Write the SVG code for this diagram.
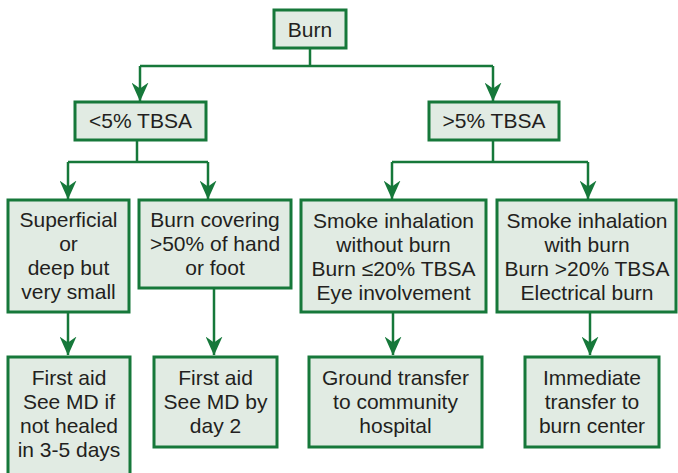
<svg xmlns="http://www.w3.org/2000/svg" width="678" height="473" viewBox="0 0 678 473">
<defs>
<marker id="arr" markerUnits="userSpaceOnUse" viewBox="0 0 19 17" refX="18.5" refY="8.5" markerWidth="19" markerHeight="17" orient="auto">
<path d="M0,0 L19,8.5 L0,17 L6,8.5 z" fill="#16783a"/>
</marker>
<style>
.box{fill:#e1ebe3;stroke:#16783a;stroke-width:3}
.t{font-family:"Liberation Sans",Arial,sans-serif;font-size:21px;fill:#231f20;text-anchor:middle}
.c{fill:none;stroke:#16783a;stroke-width:2.5}
</style>
</defs>
<rect width="678" height="473" fill="#ffffff"/>
<g id="connectors">
<path class="c" d="M310,49 V66"/>
<path class="c" d="M140,66 H493"/>
<path class="c" d="M140,66 V101" marker-end="url(#arr)"/>
<path class="c" d="M493,66 V101" marker-end="url(#arr)"/>
<path class="c" d="M137,141 V162"/>
<path class="c" d="M68,162 H208"/>
<path class="c" d="M68,162 V199" marker-end="url(#arr)"/>
<path class="c" d="M208,162 V199" marker-end="url(#arr)"/>
<path class="c" d="M493,141 V162"/>
<path class="c" d="M392,162 H588"/>
<path class="c" d="M392,162 V199" marker-end="url(#arr)"/>
<path class="c" d="M588,162 V199" marker-end="url(#arr)"/>
<path class="c" d="M68,312 V355" marker-end="url(#arr)"/>
<path class="c" d="M214,288 V355" marker-end="url(#arr)"/>
<path class="c" d="M393,312 V355" marker-end="url(#arr)"/>
<path class="c" d="M590,312 V355" marker-end="url(#arr)"/>
</g>
<g id="burn">
<rect class="box" x="274" y="10" width="72" height="38"/>
<text class="t" x="310" y="37">Burn</text>
</g>
<g id="lt5">
<rect class="box" x="75" y="102" width="131" height="38"/>
<text class="t" x="140.5" y="128">&lt;5% TBSA</text>
</g>
<g id="gt5">
<rect class="box" x="429" y="102" width="130" height="38"/>
<text class="t" x="494" y="128">&gt;5% TBSA</text>
</g>
<g id="superficial">
<rect class="box" x="8" y="200" width="121" height="112"/>
<text class="t" x="68.5" y="227">Superficial</text>
<text class="t" x="68.5" y="251">or</text>
<text class="t" x="68.5" y="275">deep but</text>
<text class="t" x="68.5" y="299">very small</text>
</g>
<g id="handfoot">
<rect class="box" x="139" y="200" width="152" height="88"/>
<text class="t" x="215" y="227">Burn covering</text>
<text class="t" x="215" y="251">&gt;50% of hand</text>
<text class="t" x="215" y="275">or foot</text>
</g>
<g id="smokeNoBurn">
<rect class="box" x="301" y="200" width="185" height="112"/>
<text class="t" x="393.5" y="228">Smoke inhalation</text>
<text class="t" x="393.5" y="252">without burn</text>
<text class="t" x="393.5" y="276">Burn ≤20% TBSA</text>
<text class="t" x="393.5" y="300">Eye involvement</text>
</g>
<g id="smokeBurn">
<rect class="box" x="497" y="200" width="179" height="112"/>
<text class="t" x="587" y="228">Smoke inhalation</text>
<text class="t" x="587" y="252">with burn</text>
<text class="t" x="587" y="276">Burn &gt;20% TBSA</text>
<text class="t" x="587" y="300">Electrical burn</text>
</g>
<g id="firstAid1">
<rect class="box" x="8" y="357" width="122" height="120"/>
<text class="t" x="69" y="385">First aid</text>
<text class="t" x="69" y="409">See MD if</text>
<text class="t" x="69" y="433">not healed</text>
<text class="t" x="69" y="457">in 3-5 days</text>
</g>
<g id="firstAid2">
<rect class="box" x="154" y="357" width="123" height="90"/>
<text class="t" x="215.5" y="385">First aid</text>
<text class="t" x="215.5" y="409">See MD by</text>
<text class="t" x="215.5" y="433">day 2</text>
</g>
<g id="ground">
<rect class="box" x="309" y="357" width="173" height="90"/>
<text class="t" x="395.5" y="385">Ground transfer</text>
<text class="t" x="395.5" y="409">to community</text>
<text class="t" x="395.5" y="433">hospital</text>
</g>
<g id="immediate">
<rect class="box" x="525" y="357" width="134" height="90"/>
<text class="t" x="592" y="385">Immediate</text>
<text class="t" x="592" y="409">transfer to</text>
<text class="t" x="592" y="433">burn center</text>
</g>
</svg>
